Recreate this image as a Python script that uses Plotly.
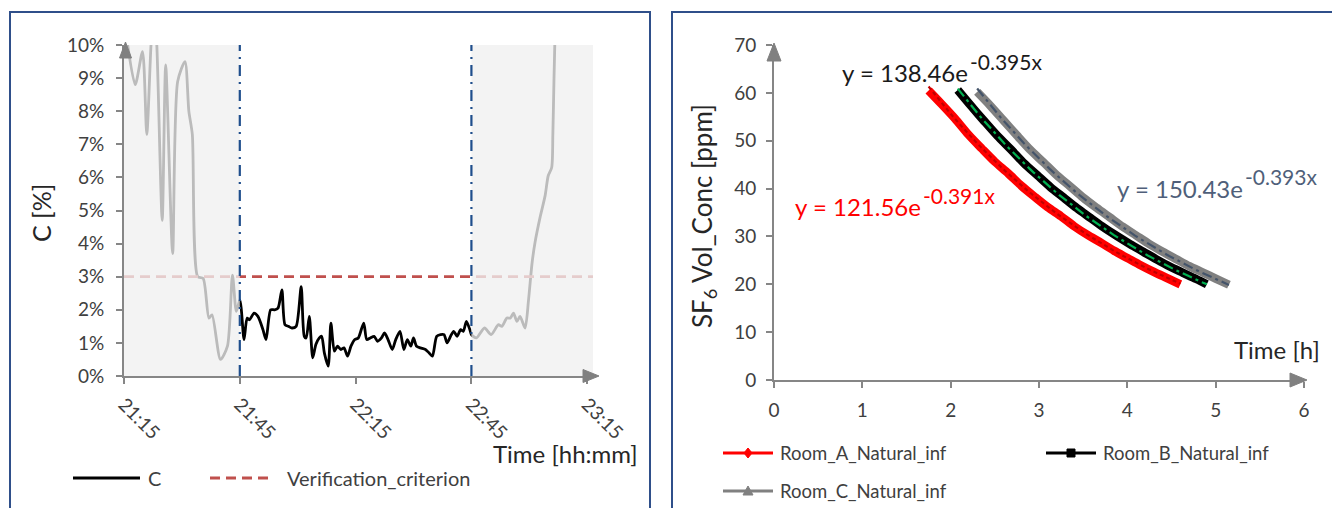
import plotly.graph_objects as go
import numpy as np

W, H = 1332, 508
FONT = "Lato"

# ---------------- Left chart data (minutes after 21:15) ----------------
c_minutes = [0.6, 2.9, 4.8, 5.9, 7.0, 7.8, 8.5, 9.9, 10.8, 12.6, 13.9, 15.8, 16.8, 17.7, 19.1, 20.5,
             22.0, 22.8, 25.0, 26.8, 28.1, 29.1,
             30.0, 30.4, 31.1, 31.9, 32.5, 33.7, 34.7, 36.0, 36.8, 38.0, 39.0, 39.9, 40.9, 41.7, 42.6,
             43.5, 44.6, 45.9, 46.7, 47.2, 48.0, 48.9, 49.7, 50.6, 51.2, 51.9, 52.9, 53.6, 54.5, 55.3,
             56.2, 57.0, 57.9, 58.8, 59.8, 60.7, 62.1, 62.9, 63.8, 64.8, 65.7, 66.7, 67.5, 68.4, 69.5,
             70.4, 71.5, 72.5, 73.4, 74.3, 75.0, 75.8, 76.8, 78.1, 79.0, 79.9, 81.0, 82.0, 82.9, 83.7,
             84.6, 85.4, 86.3, 87.2, 87.9, 88.7, 89.6, 90.0,
             91.3, 93.4, 95.1, 97.0, 97.9, 99.2, 100.1, 100.9, 101.8, 102.6, 103.9, 104.8, 105.7,
             106.5, 107.8, 109.1, 109.9, 110.8, 111.1, 111.4, 111.7]
c_percent = [10.3, 8.8, 9.8, 7.3, 10.0, 11.2, 10.0, 4.7, 9.4, 3.7, 8.9, 9.5, 8.0, 7.3, 3.0, 2.95,
             1.75, 1.85, 0.5, 0.9, 3.05, 1.95,
             2.3, 2.0, 1.1, 1.75, 1.7, 1.9, 1.8, 1.4, 1.1, 2.0, 2.0, 2.05, 2.6, 1.55, 1.5,
             1.45, 1.5, 2.7, 1.2, 1.15, 1.8, 0.55, 0.95, 1.15, 1.2, 0.7, 0.3, 1.6, 0.75, 0.9,
             0.8, 0.85, 0.6, 0.9, 1.1, 1.15, 1.6, 1.1, 1.15, 1.2, 1.05, 1.15, 1.3, 1.1, 0.8,
             1.1, 1.35, 0.8, 1.1, 0.9, 1.15, 0.9, 0.85, 0.8, 0.7, 0.6, 1.2, 1.25, 1.25, 1.0,
             1.2, 1.35, 1.2, 1.4, 1.35, 1.65, 1.4, 1.25,
             1.15, 1.45, 1.25, 1.55, 1.5, 1.75, 1.75, 1.9, 1.65, 1.8, 1.45, 2.3, 3.4,
             4.05, 4.8, 5.45, 6.05, 6.3, 7.3, 9.0, 10.5]
criterion_minutes = [0, 121.5]
criterion_percent = [3, 3]
window_minutes = [30, 90]          # 21:45 and 22:45
time_tickvals = [0, 30, 60, 90, 120]
time_ticktext = ["21:15", "21:45", "22:15", "22:45", "23:15"]
left_xmax = 121.5

# ---------------- Right chart data ----------------
a_time = [1.75, 1.90, 2.05, 2.20, 2.35, 2.50, 2.65, 2.80, 2.95, 3.10, 3.25, 3.40, 3.55, 3.70,
          3.85, 4.00, 4.15, 4.30, 4.45, 4.60]
a_conc = [60.5, 57.6, 54.6, 51.3, 48.4, 45.6, 43.2, 40.6, 38.3, 36.1, 34.2, 32.1, 30.3, 28.7,
          27.0, 25.5, 24.0, 22.6, 21.3, 20.0]
b_time = [2.08, 2.23, 2.38, 2.53, 2.68, 2.83, 2.98, 3.13, 3.28, 3.43, 3.58, 3.73, 3.88, 4.03,
          4.18, 4.33, 4.48, 4.63, 4.78, 4.90]
b_conc = [60.6, 57.3, 54.1, 51.0, 48.2, 45.3, 42.8, 40.3, 38.1, 35.9, 33.9, 31.9, 30.1, 28.4,
          26.8, 25.2, 23.7, 22.4, 21.1, 20.0]
c_time_h = [2.30, 2.45, 2.60, 2.75, 2.90, 3.05, 3.20, 3.35, 3.50, 3.65, 3.80, 3.95, 4.10, 4.25,
            4.40, 4.55, 4.70, 4.85, 5.00, 5.15]
c_conc = [60.2, 57.3, 54.2, 51.1, 48.1, 45.5, 42.8, 40.5, 38.1, 36.0, 34.0, 32.0, 30.2, 28.4,
          26.8, 25.3, 23.8, 22.5, 21.2, 19.9]
# displayed exponential trendline coefficients (a, b) for y = a*exp(b*x)
trend_a = (121.56, -0.391)
trend_b = (138.46, -0.395)
trend_c = (150.43, -0.393)
series_names = ["Room_A_Natural_inf", "Room_B_Natural_inf", "Room_C_Natural_inf"]


def px(x):
    return x / W


def py(y):
    return 1 - y / H


fig = go.Figure()

# ---- left traces ----
fig.add_trace(go.Scatter(x=c_minutes, y=c_percent, mode="lines", name="C",
                         line=dict(color="black", width=2.8, shape="spline", smoothing=0.7),
                         xaxis="x", yaxis="y", showlegend=False))
fig.add_trace(go.Scatter(x=criterion_minutes, y=criterion_percent, mode="lines",
                         name="Verification_criterion",
                         line=dict(color="#C0504D", width=2.8, dash="10px,6px"),
                         xaxis="x", yaxis="y", showlegend=False))

# ---- right traces ----
right_sets = [(a_time, a_conc, "#FF0000", trend_a, "#C00000", "4px,3px"),
              (b_time, b_conc, "#000000", trend_b, "#00B050", "10px,4px,3px,4px"),
              (c_time_h, c_conc, "#808080", trend_c, "#44546A", "10px,4px,3px,4px")]
for (tx, ty, col, _, _, _), nm in zip(right_sets, series_names):
    fig.add_trace(go.Scatter(x=tx, y=ty, mode="lines", name=nm,
                             line=dict(color=col, width=8.5, shape="spline", smoothing=0.8),
                             xaxis="x2", yaxis="y2", showlegend=False))
for tx, ty, col, (ca, cb), tcol, tdash in right_sets:
    xs = np.linspace(tx[0], tx[-1], 60)
    fig.add_trace(go.Scatter(x=xs, y=ca * np.exp(cb * xs), mode="lines",
                             line=dict(color=tcol, width=2.2, dash=tdash),
                             xaxis="x2", yaxis="y2", showlegend=False, hoverinfo="skip"))

shapes = []
annotations = []

# panel borders
for x0, x1 in [(10, 650), (672, 1345)]:
    shapes.append(dict(type="rect", xref="paper", yref="paper", x0=px(x0), x1=px(x1),
                       y0=py(530), y1=py(12), line=dict(color="#2F4F8A", width=2),
                       fillcolor="rgba(0,0,0,0)", layer="below"))

# shaded (out-of-window) regions overlaying the data
for x0, x1 in [(0, window_minutes[0]), (window_minutes[1], left_xmax)]:
    shapes.append(dict(type="rect", xref="x", yref="y", x0=x0, x1=x1, y0=0, y1=10,
                       fillcolor="rgba(240,240,240,0.78)", line=dict(width=0), layer="above"))
# window boundaries
for xv in window_minutes:
    shapes.append(dict(type="line", xref="x", yref="y", x0=xv, x1=xv, y0=0, y1=10,
                       line=dict(color="#1F4E8C", width=2.2, dash="11px,6px,2px,6px"),
                       layer="above"))


def tri(points, color="#808080"):
    path = "M " + " L ".join(f"{px(x)},{py(y)}" for x, y in points) + " Z"
    shapes.append(dict(type="path", xref="paper", yref="paper", path=path,
                       fillcolor=color, line=dict(color=color, width=1), layer="above"))


# axis arrows
tri([(125.5, 42), (119.5, 58), (131.5, 58)])
tri([(599, 376), (583, 369.5), (583, 382.5)])
tri([(774, 43), (767, 61), (781, 61)])
tri([(1307, 380), (1290, 373), (1290, 387)])


def label(text, x, y, size, color="#262626", xanchor="center", angle=0):
    annotations.append(dict(text=text, xref="paper", yref="paper", x=px(x), y=py(y),
                            xanchor=xanchor, yanchor="middle", textangle=angle,
                            showarrow=False, font=dict(family=FONT, size=size, color=color)))


# axis titles
label("C [%]", 41, 213, 25, angle=-90)
label("Time [hh:mm]", 565, 453, 24)
label("SF<sub>6</sub> Vol_Conc [ppm]", 703, 216, 26, angle=-90)
label("Time [h]", 1277, 349, 24)

# trendline equations: base text right-anchored, exponent left-anchored at the junction
eqs = [("y = 121.56e", "-0.391x", "#FF0000", 923, 207),
       ("y = 138.46e", "-0.395x", "#1A1A1A", 970, 73),
       ("y = 150.43e", "-0.393x", "#4F5F7A", 1245, 188)]
for base, expo, col, xj, yc in eqs:
    label(base, xj, yc, 24, color=col, xanchor="right")
    label(expo, xj - 2, yc - 12, 21, color=col, xanchor="left")

# legends (left)
shapes.append(dict(type="line", xref="paper", yref="paper", x0=px(73), x1=px(140), y0=py(478),
                   y1=py(478), line=dict(color="black", width=2.8)))
label("C", 146, 478, 20, color="#404040", xanchor="left")
shapes.append(dict(type="line", xref="paper", yref="paper", x0=px(210), x1=px(273), y0=py(478),
                   y1=py(478), line=dict(color="#C0504D", width=2.8, dash="10px,6px")))
label("Verification_criterion", 285, 478, 20, color="#404040", xanchor="left")

# legends (right)
leg = [(723, 453, "#FF0000", "diamond", series_names[0]),
       (1046, 453, "#000000", "square", series_names[1]),
       (723, 491, "#808080", "triangle", series_names[2])]
for x0, yc, col, mk, nm in leg:
    shapes.append(dict(type="line", xref="paper", yref="paper", x0=px(x0), x1=px(x0 + 50),
                       y0=py(yc), y1=py(yc), line=dict(color=col, width=2.8)))
    cx = x0 + 25
    if mk == "diamond":
        tri([(cx, yc - 5), (cx + 4, yc), (cx, yc + 5), (cx - 4, yc)], col)
    elif mk == "square":
        tri([(cx - 4, yc - 4), (cx + 4, yc - 4), (cx + 4, yc + 4), (cx - 4, yc + 4)], col)
    else:
        tri([(cx, yc - 5), (cx + 5, yc + 4), (cx - 5, yc + 4)], col)
    label(nm, x0 + 55, yc, 18.5, color="#404040", xanchor="left")

axis_common = dict(showgrid=False, zeroline=False, showline=True, linecolor="#868686",
                   linewidth=2, ticks="outside", tickcolor="#868686", ticklen=6, tickwidth=1.5,
                   automargin=False, tickfont=dict(family=FONT, size=19, color="#404040"))

fig.update_layout(
    width=W, height=H, margin=dict(l=0, r=0, t=0, b=0), autosize=False,
    paper_bgcolor="white", plot_bgcolor="rgba(0,0,0,0)", showlegend=False,
    xaxis=dict(domain=[px(124), px(593)], range=[0, left_xmax], tickvals=time_tickvals,
               ticktext=time_ticktext, tickangle=45, anchor="y", ticklabelstandoff=2,
               **axis_common),
    yaxis=dict(domain=[py(376), py(45)], range=[0, 10], dtick=1, ticksuffix="%", anchor="x",
               ticklabelstandoff=8, **axis_common),
    xaxis2=dict(domain=[px(774), px(1304)], range=[0, 6], dtick=1, anchor="y2",
                ticklabelstandoff=6, **axis_common),
    yaxis2=dict(domain=[py(380), py(45)], range=[0, 70], dtick=10, anchor="x2",
                ticklabelstandoff=6, **axis_common),
    shapes=shapes, annotations=annotations,
)

fig.write_html("out.html", config={"displayModeBar": False},
               post_script="document.body.style.margin='0';document.body.style.overflow='hidden';")
